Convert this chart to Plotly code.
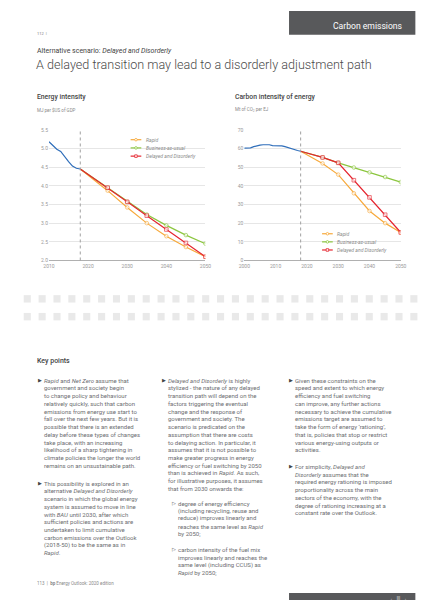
import plotly.graph_objects as go

# ---------------- DATA ----------------
base_year = 2018
# Energy intensity (MJ per $US of GDP)
ei_hist_years = [2010, 2011, 2012, 2013, 2014, 2015, 2016, 2017, 2018]
ei_hist = [5.18, 5.08, 4.98, 4.92, 4.80, 4.65, 4.53, 4.47, 4.45]
proj_years = [2018, 2025, 2030, 2035, 2040, 2045, 2050]
ei_rapid = [4.45, 3.87, 3.42, 3.00, 2.65, 2.36, 2.10]
ei_bau = [4.45, 3.95, 3.57, 3.23, 2.94, 2.68, 2.45]
ei_dd = [4.45, 3.95, 3.57, 3.20, 2.83, 2.47, 2.10]
ei_yticks = [2.0, 2.5, 3.0, 3.5, 4.0, 4.5, 5.0, 5.5]
ei_xticks = [2010, 2020, 2030, 2040, 2050]

# Carbon intensity of energy (Mt of CO2 per EJ)
ci_hist_years = list(range(2000, 2019))
ci_hist = [60.2, 60.1, 60.3, 61.0, 61.5, 61.8, 62.0, 62.1, 62.0, 61.5,
           61.6, 61.7, 61.4, 61.0, 60.4, 59.8, 59.3, 58.9, 58.5]
ci_rapid = [58.5, 52.0, 46.0, 36.0, 26.5, 20.0, 15.0]
ci_bau = [58.5, 55.2, 52.3, 49.8, 47.2, 44.7, 42.0]
ci_dd = [58.5, 55.2, 52.3, 43.0, 33.8, 24.5, 15.0]
ci_yticks = [0, 10, 20, 30, 40, 50, 60, 70]
ci_xticks = [2000, 2010, 2020, 2030, 2040, 2050]

series_names = ["Rapid", "Business-as-usual", "Delayed and Disorderly"]

# ---------------- STYLE ----------------
W, H = 426, 600
C_RAPID = "#f7a93b"
C_BAU = "#8cc63f"
C_DD = "#e5252f"
C_HIST = "#2f6eba"
FONT = "Roboto, Liberation Sans, Arial, sans-serif"
TXT = "#6d6e71"


def px(x):
    return x / W


def py(y):
    return 1 - y / H


fig = go.Figure()


def add_series(xa, ya, years, vals, color, symbol, name):
    sizes = [0] + [3.6] * (len(years) - 1)
    fig.add_trace(go.Scatter(
        x=years, y=vals, xaxis=xa, yaxis=ya, mode="lines+markers", name=name,
        line=dict(color=color, width=1.2),
        marker=dict(symbol=symbol, size=sizes, color="white",
                    line=dict(color=color, width=0.9)),
        showlegend=False, hoverinfo="skip"))


# left chart
add_series("x", "y", proj_years, ei_rapid, C_RAPID, "circle", series_names[0])
add_series("x", "y", proj_years, ei_bau, C_BAU, "circle", series_names[1])
add_series("x", "y", proj_years, ei_dd, C_DD, "square", series_names[2])
fig.add_trace(go.Scatter(x=ei_hist_years, y=ei_hist, xaxis="x", yaxis="y",
                         mode="lines", line=dict(color=C_HIST, width=1.2),
                         showlegend=False, hoverinfo="skip"))
# right chart
add_series("x2", "y2", proj_years, ci_rapid, C_RAPID, "circle", series_names[0])
add_series("x2", "y2", proj_years, ci_bau, C_BAU, "circle", series_names[1])
add_series("x2", "y2", proj_years, ci_dd, C_DD, "square", series_names[2])
fig.add_trace(go.Scatter(x=ci_hist_years, y=ci_hist, xaxis="x2", yaxis="y2",
                         mode="lines", line=dict(color=C_HIST, width=1.2),
                         showlegend=False, hoverinfo="skip"))

tickfont = dict(family=FONT, size=5, color="#9a9a9a")
ax_common = dict(showgrid=False, zeroline=False, showline=True, linecolor="#b0b0b0",
                 linewidth=1.2, ticks="", tickfont=tickfont, fixedrange=True)
ay_common = dict(showgrid=True, gridcolor="#e6e6e6", gridwidth=0.8, zeroline=False,
                 showline=False, ticks="", tickfont=tickfont, fixedrange=True)

fig.update_layout(
    width=W, height=H, margin=dict(l=0, r=0, t=0, b=0),
    paper_bgcolor="white", plot_bgcolor="white",
    xaxis=dict(domain=[px(36), px(197)], range=[2010, 2050], tickvals=ei_xticks,
               anchor="y", **ax_common),
    yaxis=dict(domain=[py(252), py(120)], range=[2.0, 5.5], tickvals=ei_yticks,
               tickformat=".1f", anchor="x", **ay_common),
    xaxis2=dict(domain=[px(237), px(398)], range=[2000, 2050], tickvals=ci_xticks,
                anchor="y2", **ax_common),
    yaxis2=dict(domain=[py(252), py(120)], range=[0, 70], tickvals=ci_yticks,
                anchor="x2", **ay_common),
)

shapes = []
# base-year dotted lines
for xr, yr in (("x", "y"), ("x2", "y2")):
    shapes.append(dict(type="line", xref=xr, yref=yr + " domain", x0=base_year, x1=base_year,
                       y0=0, y1=1, line=dict(color="#a0a0a0", width=1, dash="dot")))


# manual legends
def legend(x0, ys):
    for name, col, sym, yy in zip(series_names, [C_RAPID, C_BAU, C_DD],
                                  ["circle", "circle", "rect"], ys):
        shapes.append(dict(type="line", xref="paper", yref="paper", x0=px(x0), x1=px(x0 + 11),
                           y0=py(yy), y1=py(yy), line=dict(color=col, width=1.2)))
        shapes.append(dict(type=sym, xref="paper", yref="paper",
                           x0=px(x0 + 4.2), x1=px(x0 + 6.8), y0=py(yy + 1.3), y1=py(yy - 1.3),
                           fillcolor="white", line=dict(color=col, width=0.8)))
        fig.add_annotation(x=px(x0 + 13.5), y=py(yy), xref="paper", yref="paper",
                           text="<i>%s</i>" % name, showarrow=False, xanchor="left",
                           yanchor="middle", font=dict(family=FONT, size=5, color="#8a8a8a"))


legend(120, [130, 138.3, 146.6])
legend(317, [225, 233.2, 241.4])

# header / footer boxes
shapes.append(dict(type="rect", xref="paper", yref="paper", x0=px(283), x1=px(413),
                   y0=py(24), y1=py(0), fillcolor="#58595b", line=dict(width=0)))
shapes.append(dict(type="rect", xref="paper", yref="paper", x0=px(283), x1=px(413),
                   y0=py(600), y1=py(588), fillcolor="#58595b", line=dict(width=0)))

# decorative grey squares (two rows)
for row_y in (287, 305):
    for i in range(27):
        x0 = 10 + i * 15.3
        shapes.append(dict(type="rect", xref="paper", yref="paper", x0=px(x0), x1=px(x0 + 7.3),
                           y0=py(row_y + 7.5), y1=py(row_y), fillcolor="#e9e9e9",
                           line=dict(width=0), layer="above"))

fig.update_layout(shapes=shapes)


def text(x, y, s, size, color=TXT, anchor="left", weight=None, family=FONT):
    f = dict(family=family, size=size, color=color)
    if weight:
        f["weight"] = weight
    fig.add_annotation(x=px(x), y=py(y), xref="paper", yref="paper", text=s,
                       showarrow=False, xanchor=anchor, yanchor="middle", font=f,
                       borderpad=0)


text(401, 15, "Carbon emissions", 8.6, color="white", anchor="right")
text(23, 23, "112  |", 4, color="#777")
text(23, 40, "Alternative scenario: <i>Delayed and Disorderly</i>", 7, color="#444")
text(22, 54, "A delayed transition may lead to a disorderly adjustment path", 12.6,
     color="#4a4a4a", weight=300)
text(23, 87, "Energy intensity", 6.8, color="#444", weight=500)
text(23, 100, "MJ per $US of GDP", 4.5, color="#8a8a8a")
text(226, 87, "Carbon intensity of energy", 6.8, color="#444", weight=500)
text(226, 100, "Mt of CO<sub>2</sub> per EJ", 4.5, color="#8a8a8a")
text(23, 354, "Key points", 7, color="#444", weight=500)
text(23, 578, "113  |  <b>bp</b> Energy Outlook: 2020 edition", 4.5, color="#888")
text(405, 593, "←  |||  →", 4.5, color="white", anchor="right")

LH = 7.8
BODY = 6.0


def para(xb, xt, y0, lines, bullet="▶"):
    text(xb, y0, bullet, 4.5, color="#444")
    for i, ln in enumerate(lines):
        text(xt, y0 + i * LH, ln, BODY)


para(24, 30, 373, [
    "<i>Rapid</i> and <i>Net Zero</i> assume that",
    "government and society begin",
    "to change policy and behaviour",
    "relatively quickly, such that carbon",
    "emissions from energy use start to",
    "fall over the next few years. But it is",
    "possible that there is an extended",
    "delay before these types of changes",
    "take place, with an increasing",
    "likelihood of a sharp tightening in",
    "climate policies the longer the world",
    "remains on an unsustainable path."])
para(24, 30, 477, [
    "This possibility is explored in an",
    "alternative <i>Delayed and Disorderly</i>",
    "scenario in which the global energy",
    "system is assumed to move in line",
    "with <i>BAU</i> until 2030, after which",
    "sufficient policies and actions are",
    "undertaken to limit cumulative",
    "carbon emissions over the Outlook",
    "(2018-50) to be the same as in",
    "<i>Rapid</i>."])
para(151, 157, 373, [
    "<i>Delayed and Disorderly</i> is highly",
    "stylized - the nature of any delayed",
    "transition path will depend on the",
    "factors triggering the eventual",
    "change and the response of",
    "government and society. The",
    "scenario is predicated on the",
    "assumption that there are costs",
    "to delaying action. In particular, it",
    "assumes that it is not possible to",
    "make greater progress in energy",
    "efficiency or fuel switching by 2050",
    "than is achieved in <i>Rapid</i>. As such,",
    "for illustrative purposes, it assumes",
    "that from 2030 onwards the:"])
para(162, 168, 497, [
    "degree of energy efficiency",
    "(including recycling, reuse and",
    "reduce) improves linearly and",
    "reaches the same level as <i>Rapid</i>",
    "by 2050;"], bullet="▷")
para(162, 168, 544, [
    "carbon intensity of the fuel mix",
    "improves linearly and reaches the",
    "same level (including CCUS) as",
    "<i>Rapid</i> by 2050;"], bullet="▷")
para(282, 288, 373, [
    "Given these constraints on the",
    "speed and extent to which energy",
    "efficiency and fuel switching",
    "can improve, any further actions",
    "necessary to achieve the cumulative",
    "emissions target are assumed to",
    "take the form of energy ‘rationing’,",
    "that is, policies that stop or restrict",
    "various energy-using outputs or",
    "activities."])
para(282, 288, 460, [
    "For simplicity, <i>Delayed and</i>",
    "<i>Disorderly</i> assumes that the",
    "required energy rationing is imposed",
    "proportionality across the main",
    "sectors of the economy, with the",
    "degree of rationing increasing at a",
    "constant rate over the Outlook."])

fig.write_html("out.html")
